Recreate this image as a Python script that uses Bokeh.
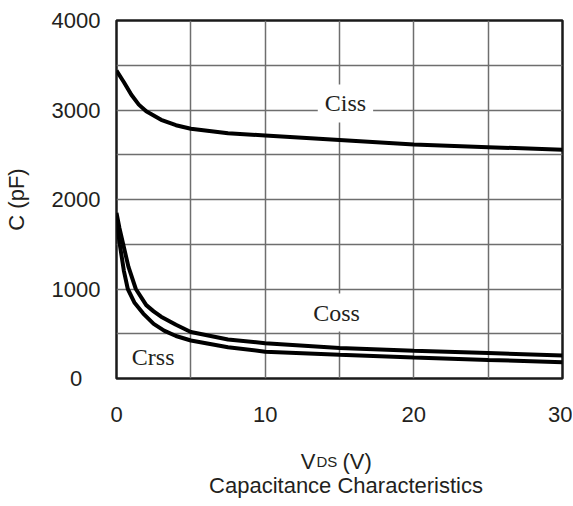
from bokeh.plotting import figure
from bokeh.models import Range1d, FixedTicker, Label
from bokeh.layouts import column
from bokeh.core.properties import value
from bokeh.embed import file_html
from bokeh.resources import INLINE

# ---- data ----
ciss_v = [0, 0.5, 1, 1.5, 2, 3, 4, 5, 7.5, 10, 15, 20, 25, 30]
ciss_c = [3440, 3310, 3170, 3060, 2985, 2890, 2830, 2790, 2740, 2715, 2665, 2615, 2585, 2555]

coss_v = [0, 0.2, 0.45, 0.8, 1.3, 2, 2.5, 3, 4, 5, 7.5, 10, 15, 20, 25, 30]
coss_c = [1850, 1680, 1500, 1250, 1000, 820, 750, 690, 600, 520, 435, 395, 340, 310, 285, 257]

crss_v = [0, 0.1, 0.22, 0.5, 0.76, 1.2, 1.8, 2.5, 3.2, 4, 5, 7.5, 10, 15, 20, 25, 30]
crss_c = [1820, 1650, 1500, 1200, 1000, 850, 725, 610, 535, 475, 425, 350, 300, 265, 235, 208, 182]

x_ticks = [0, 10, 20, 30]
y_ticks = [0, 1000, 2000, 3000, 4000]
x_grid = [5, 10, 15, 20, 25]
y_grid = [500, 1000, 1500, 2000, 2500, 3000, 3500]

series_names = ["Ciss", "Coss", "Crss"]
x_title_main = "V"
x_title_sub = "DS"
x_title_unit = "(V)"
y_title = "C (pF)"
chart_title = "Capacitance Characteristics"

TXT = "#231f20"
SANS = "Liberation Sans"
SERIF = "Liberation Serif"
W = 572

p = figure(width=W, height=440, output_backend="svg", toolbar_location=None,
           x_range=Range1d(0, 30), y_range=Range1d(0, 4000),
           min_border_left=116, min_border_right=10, min_border_top=20,
           min_border_bottom=62)
p.background_fill_color = "white"
p.border_fill_color = "white"
p.outline_line_color = "#1a1a1a"
p.outline_line_width = 2.5

for ax in (p.xaxis[0], p.yaxis[0]):
    ax.axis_line_color = None
    ax.major_tick_line_color = None
    ax.minor_tick_line_color = None
    ax.major_tick_out = 0
    ax.major_tick_in = 0
    ax.major_label_text_font = SANS
    ax.major_label_text_font_size = "22px"
    ax.major_label_text_color = TXT

p.xaxis.ticker = FixedTicker(ticks=x_ticks)
p.yaxis.ticker = FixedTicker(ticks=y_ticks)
p.xaxis.major_label_standoff = 28
p.yaxis.major_label_standoff = 16
p.yaxis.major_label_overrides = {0: "0\u2007\u00a0"}

p.yaxis.axis_label = y_title
p.yaxis.axis_label_text_font = SANS
p.yaxis.axis_label_text_font_size = "22px"
p.yaxis.axis_label_text_font_style = "normal"
p.yaxis.axis_label_text_color = TXT
p.yaxis.axis_label_standoff = 20

p.xgrid.ticker = FixedTicker(ticks=x_grid)
p.ygrid.ticker = FixedTicker(ticks=y_grid)
p.grid.grid_line_color = "#6e6e6e"
p.grid.grid_line_width = 1.5

for xs, ys in ((ciss_v, ciss_c), (coss_v, coss_c), (crss_v, crss_c)):
    p.line(xs, ys, line_color="black", line_width=4)

# curve labels with white boxes (drawn under the curves, over the grid)
label_pos = [(15.4, 3073, 7, 7), (14.8, 737, 7, 7), (2.7, 240, 7, 14)]
for name, (lx, ly, pl, pr) in zip(series_names, label_pos):
    p.add_layout(Label(x=lx, y=ly, text=name, text_font=SERIF, text_font_size="24px",
                       text_color=TXT, text_align="center", text_baseline="middle",
                       background_fill_color="white",
                       padding=dict(left=pl, right=pr, top=6, bottom=6),
                       level="underlay"))

# ---- strip below the plot holding the x-axis title and chart title ----
# its frame is aligned with the main frame horizontally (page x 116..562)
H2 = 64
t = figure(width=W, height=H2, output_backend="svg", toolbar_location=None, title=None,
           x_range=Range1d(116, 562), y_range=Range1d(440 + H2, 440),
           x_axis_type=None, y_axis_type=None, min_border=0)
t.outline_line_color = None
t.grid.visible = False
t.background_fill_color = "white"
t.border_fill_color = "white"

YB1, YB2 = 461, 484.5
t.text(x=[315], y=[YB1], text=[x_title_main], text_font=value(SANS), text_font_size="22px",
       text_color=TXT, text_align="right", text_baseline="alphabetic")
t.text(x=[316], y=[YB1], text=[x_title_sub], text_font=value(SANS), text_font_size="15px",
       text_color=TXT, text_align="left", text_baseline="alphabetic")
t.text(x=[342], y=[YB1], text=[x_title_unit], text_font=value(SANS), text_font_size="22px",
       text_color=TXT, text_align="left", text_baseline="alphabetic")
t.text(x=[345.5], y=[YB2], text=[chart_title], text_font=value(SANS), text_font_size="22px",
       text_color=TXT, text_align="center", text_baseline="alphabetic")

layout = column(p, t, spacing=0)
open("out.html", "w").write(file_html(layout, INLINE))
